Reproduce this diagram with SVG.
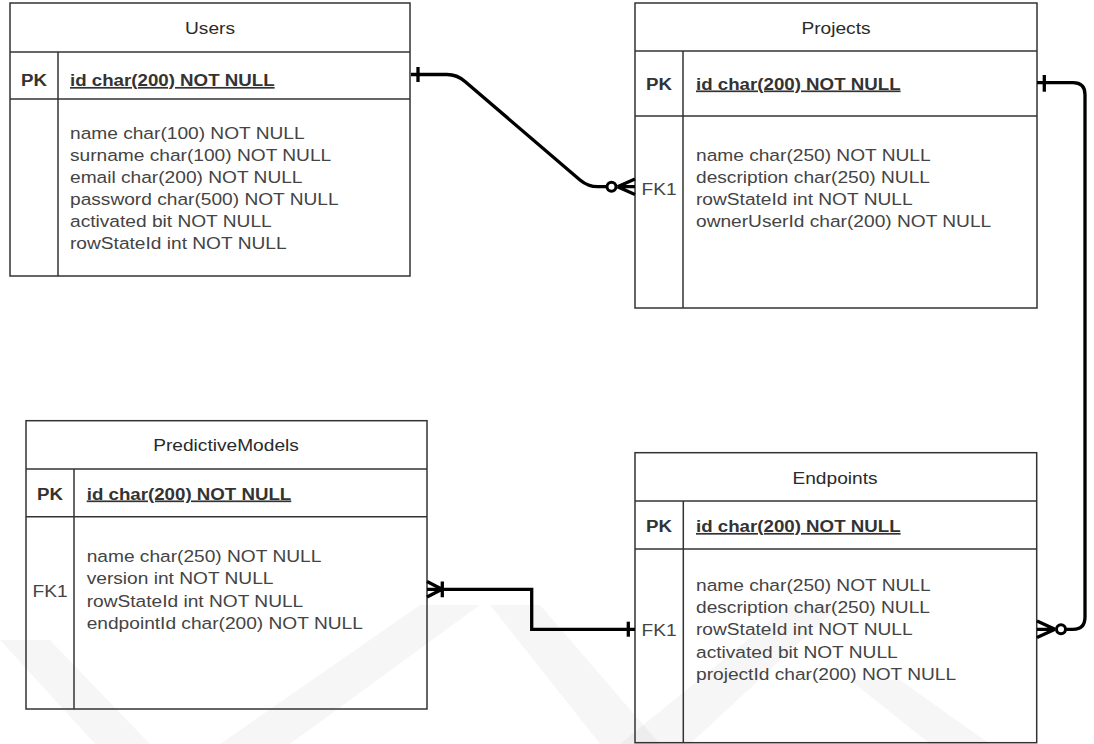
<svg xmlns="http://www.w3.org/2000/svg" width="1094" height="744" viewBox="0 0 1094 744">
<style>
.box{fill:none;stroke:#333;stroke-width:1.5}
.t{font-family:"Liberation Sans",Arial,Helvetica,sans-serif;font-size:17.4px;fill:#444}
.hd{fill:#2a2a2a}
.pk{font-family:"Liberation Sans",Arial,Helvetica,sans-serif;font-size:17px;font-weight:bold;fill:#333}
.u{text-decoration:underline}
.c{fill:none;stroke:#000;stroke-width:3.3;stroke-linejoin:round}
.ci{fill:#fff;stroke:#000;stroke-width:3}
.wm{fill:#000;opacity:0.035}
</style>
<rect width="1094" height="744" fill="#fff"/>
<g id="watermark">
<polygon class="wm" points="0,640 50,640 150,744 95,744"/>
<polygon class="wm" points="220,744 290,744 480,605 420,605"/>
<polygon class="wm" points="490,605 540,605 660,744 600,744"/>
<polygon class="wm" points="620,744 690,744 840,605 790,605"/>
<polygon class="wm" points="850,680 900,680 990,744 930,744"/>
</g>
<g id="users">
<rect class="box" x="10" y="3" width="400" height="273"/>
<line class="box" x1="10" y1="52" x2="410" y2="52"/>
<line class="box" x1="10" y1="99" x2="410" y2="99"/>
<line class="box" x1="58" y1="52" x2="58" y2="276"/>
<text class="t hd" text-anchor="middle" transform="translate(210,34) scale(1.1,1)">Users</text>
<text class="pk" text-anchor="middle" transform="translate(34,86) scale(1.1,1)">PK</text>
<text class="pk u" transform="translate(70,86) scale(1.1,1)">id char(200) NOT NULL</text>
<text class="t" transform="translate(70,139) scale(1.1,1)"><tspan x="0" y="0">name char(100) NOT NULL</tspan><tspan x="0" y="22">surname char(100) NOT NULL</tspan><tspan x="0" y="44">email char(200) NOT NULL</tspan><tspan x="0" y="66">password char(500) NOT NULL</tspan><tspan x="0" y="88">activated bit NOT NULL</tspan><tspan x="0" y="110">rowStateId int NOT NULL</tspan></text>
</g>
<g id="projects">
<rect class="box" x="635" y="3" width="402" height="305"/>
<line class="box" x1="635" y1="51" x2="1037" y2="51"/>
<line class="box" x1="635" y1="116" x2="1037" y2="116"/>
<line class="box" x1="683" y1="51" x2="683" y2="308"/>
<text class="t hd" text-anchor="middle" transform="translate(836,34) scale(1.1,1)">Projects</text>
<text class="pk" text-anchor="middle" transform="translate(659,89.5) scale(1.1,1)">PK</text>
<text class="pk u" transform="translate(696,89.5) scale(1.1,1)">id char(200) NOT NULL</text>
<text class="t" text-anchor="middle" transform="translate(659,194.5) scale(1.1,1)">FK1</text>
<text class="t" transform="translate(696,160.5) scale(1.1,1)"><tspan x="0" y="0">name char(250) NOT NULL</tspan><tspan x="0" y="22.3">description char(250) NULL</tspan><tspan x="0" y="44.6">rowStateId int NOT NULL</tspan><tspan x="0" y="66.9">ownerUserId char(200) NOT NULL</tspan></text>
</g>
<g id="predictivemodels">
<rect class="box" x="26" y="420.7" width="401" height="288.3"/>
<line class="box" x1="26" y1="469" x2="427" y2="469"/>
<line class="box" x1="26" y1="516.7" x2="427" y2="516.7"/>
<line class="box" x1="74" y1="469" x2="74" y2="709"/>
<text class="t hd" text-anchor="middle" transform="translate(226,451) scale(1.1,1)">PredictiveModels</text>
<text class="pk" text-anchor="middle" transform="translate(50,499.5) scale(1.1,1)">PK</text>
<text class="pk u" transform="translate(86.7,499.5) scale(1.1,1)">id char(200) NOT NULL</text>
<text class="t" text-anchor="middle" transform="translate(50,597) scale(1.1,1)">FK1</text>
<text class="t" transform="translate(86.7,562) scale(1.1,1)"><tspan x="0" y="0">name char(250) NOT NULL</tspan><tspan x="0" y="22.4">version int NOT NULL</tspan><tspan x="0" y="44.8">rowStateId int NOT NULL</tspan><tspan x="0" y="67.2">endpointId char(200) NOT NULL</tspan></text>
</g>
<g id="endpoints">
<rect class="box" x="635" y="452.7" width="401.7" height="290"/>
<line class="box" x1="635" y1="501" x2="1036.7" y2="501"/>
<line class="box" x1="635" y1="549" x2="1036.7" y2="549"/>
<line class="box" x1="683.3" y1="501" x2="683.3" y2="742.7"/>
<text class="t hd" text-anchor="middle" transform="translate(835,484) scale(1.1,1)">Endpoints</text>
<text class="pk" text-anchor="middle" transform="translate(659,532) scale(1.1,1)">PK</text>
<text class="pk u" transform="translate(696,532) scale(1.1,1)">id char(200) NOT NULL</text>
<text class="t" text-anchor="middle" transform="translate(659,636) scale(1.1,1)">FK1</text>
<text class="t" transform="translate(696,591) scale(1.1,1)"><tspan x="0" y="0">name char(250) NOT NULL</tspan><tspan x="0" y="22.2">description char(250) NULL</tspan><tspan x="0" y="44.4">rowStateId int NOT NULL</tspan><tspan x="0" y="66.6">activated bit NOT NULL</tspan><tspan x="0" y="88.8">projectId char(200) NOT NULL</tspan></text>
</g>
<g id="connectors">
<g id="users-projects">
<path class="c" d="M411 74.5 H447 Q457 74.5 465 81.5 L580 180 Q588 186.7 598 186.7 H607"/>
<path class="c" d="M418 67 V82"/>
<circle class="ci" cx="611.5" cy="186.7" r="4.5"/>
<path class="c" d="M617.5 186.7 L635 179 M617.5 186.7 H635 M617.5 186.7 L635 194.5"/>
</g>
<g id="projects-endpoints">
<path class="c" d="M1037 82.7 H1073 Q1085 82.7 1085 94.7 V617 Q1085 629.3 1073 629.3 H1066"/>
<path class="c" d="M1044.3 75 V91.7"/>
<circle class="ci" cx="1061" cy="629.3" r="4.5"/>
<path class="c" d="M1055 629.3 L1037 621 M1055 629.3 H1037 M1055 629.3 L1037 637.5"/>
</g>
<g id="predictivemodels-endpoints">
<path class="c" d="M427 589.3 H531.7 V629.3 H635" style="stroke-linejoin:miter"/>
<path class="c" d="M442 589.3 L427 581.5 M442 589.3 L427 597 M442.3 581.5 V597.3"/>
<path class="c" d="M628.3 621.7 V636.7"/>
</g>
</g>
</svg>
